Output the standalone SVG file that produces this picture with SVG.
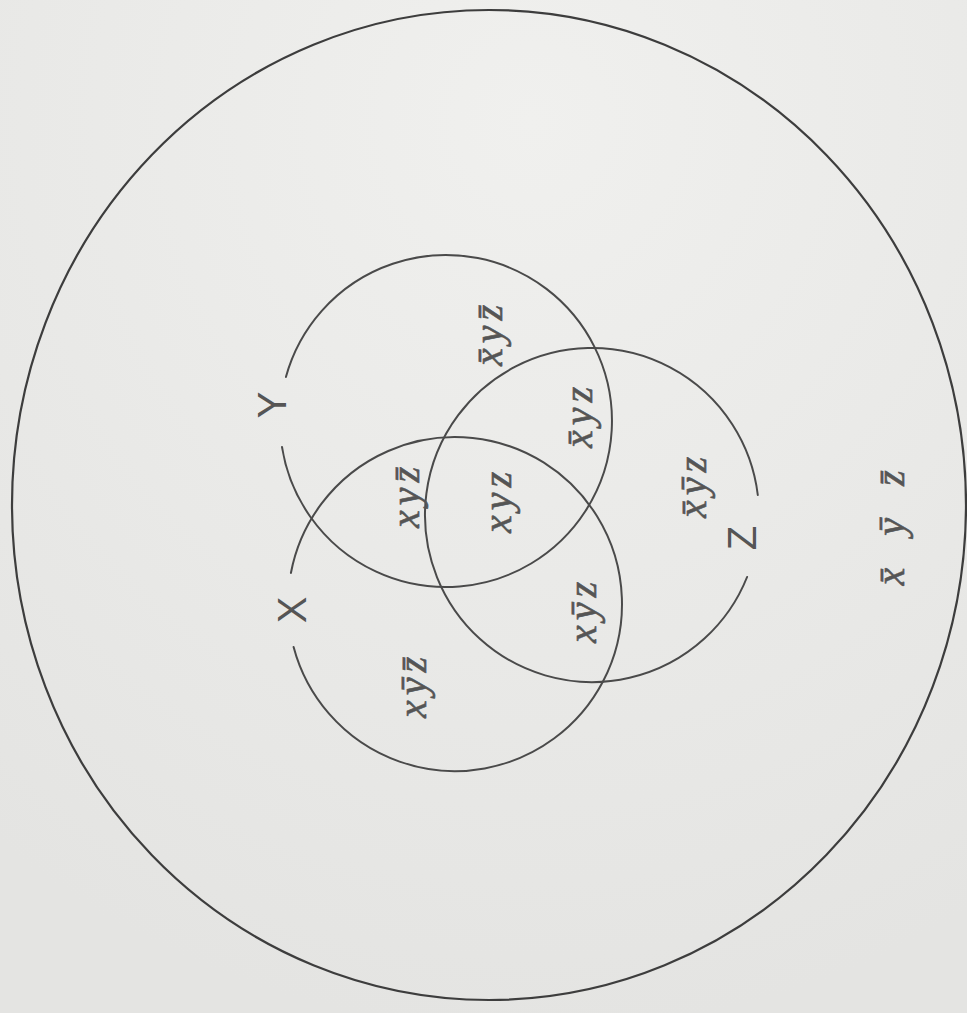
<svg xmlns="http://www.w3.org/2000/svg" width="967" height="1013" viewBox="0 0 967 1013">
<style>
.ring{fill:none;stroke:#4a4a4a;stroke-width:2;stroke-linecap:round}
.outer{fill:none;stroke:#3d3d3d;stroke-width:2.2}
.lbl{font-family:"Liberation Serif","DejaVu Serif",serif;font-style:italic;font-size:40px;fill:#555;stroke:#555;stroke-width:0.6;letter-spacing:5px;text-anchor:middle;dominant-baseline:central}
.set{font-family:"Liberation Sans","DejaVu Sans",sans-serif;font-size:40px;fill:#555;text-anchor:middle;dominant-baseline:central}
</style>
<defs>
<radialGradient id="bg" cx="0.55" cy="0.12" r="0.9">
<stop offset="0" stop-color="#f0f0ee"/>
<stop offset="1" stop-color="#e4e4e2"/>
</radialGradient>
</defs>
<rect width="967" height="1013" fill="url(#bg)"/>
<g id="universe"><ellipse class="outer" cx="489" cy="505" rx="477" ry="495"/></g>
<g id="set-y"><path class="ring" d="M 285.9 377 A 166 166 0 1 1 282 447"/><text class="set" transform="translate(272,405) rotate(-90)">Y</text></g>
<g id="set-x"><path class="ring" d="M 290.9 573 A 167 167 0 1 1 293.6 647"/><text class="set" transform="translate(292,610) rotate(-90)">X</text></g>
<g id="set-z"><path class="ring" d="M 747.1 577 A 167 167 0 1 1 757.8 495"/><text class="set" transform="translate(742,538) rotate(-90)">Z</text></g>
<g id="regions">
<text class="lbl" transform="translate(488,333) rotate(-90)">x̄yz̄</text>
<text class="lbl" transform="translate(578,415) rotate(-90)">x̄yz</text>
<text class="lbl" transform="translate(405,495) rotate(-90)">xyz̄</text>
<text class="lbl" transform="translate(497,500) rotate(-90)">xyz</text>
<text class="lbl" transform="translate(582,610) rotate(-90)">xȳz</text>
<text class="lbl" transform="translate(412,685) rotate(-90)">xȳz̄</text>
<text class="lbl" transform="translate(692,485) rotate(-90)">x̄ȳz</text>
<text class="lbl" style="letter-spacing:32px" transform="translate(890,512) rotate(-90)">x̄ȳz̄</text>
</g>
</svg>
